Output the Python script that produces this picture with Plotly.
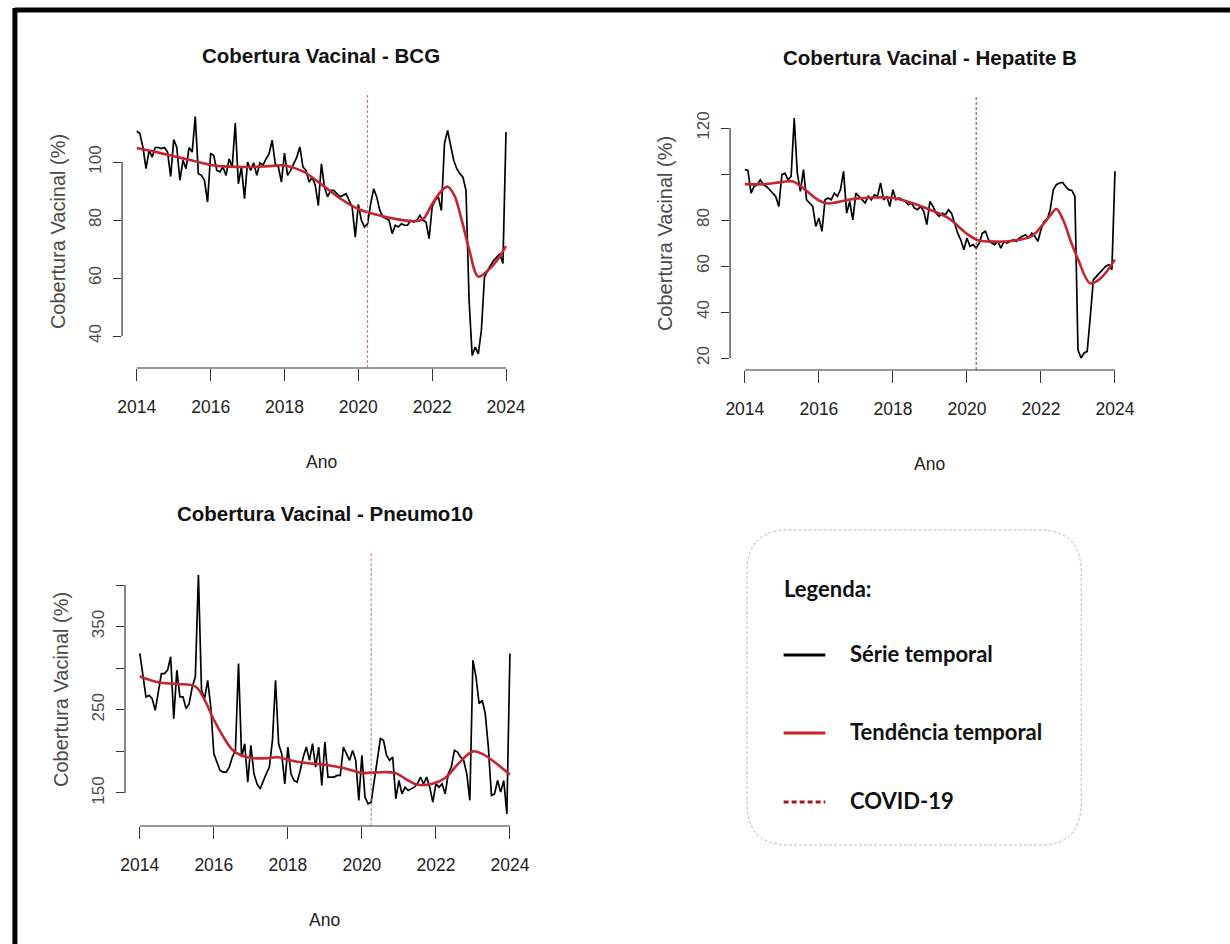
import plotly.graph_objects as go

# ---------------- data ----------------
months = [2014 + i / 12 for i in range(121)]

bcg_series = [110.6,109.8,105,97.7,104,101.7,105,105,104.6,105,103.4,95,
107.7,105,93.7,100.6,97.7,105,103.4,115.7,96,95.4,93.7,86.2,
102.9,102.3,97.1,96.6,98.3,95.4,101.1,98.3,113.4,92.5,98.3,87.4,
100,97.1,99.7,95.4,99.7,98.9,101.1,102.9,107.5,99.4,98.3,93.1,
103.1,95.4,97.1,99.4,101.7,105.2,98.3,97.1,93.1,94.8,92,85,
99.4,91.4,88,90.2,90.2,89.1,88,88.5,89.1,86.8,84.5,74.1,
85.4,79.9,77.6,78.7,85.6,90.8,87.9,83.3,81,80.5,79.9,75.3,
78.2,77.6,78.7,78.2,78.2,79.9,79.3,79.9,81.6,79.9,79.3,73.6,
84.5,86.8,88,83.3,106.3,110.9,105.2,100.6,97.7,96,94.8,90.2,
52.3,33.3,36.2,33.9,42,60.3,62.6,64.4,66.1,67.2,68.4,65,
110.3]

hepb_series = [101.9,101.6,91.7,94.6,95.4,97.5,95.4,94.6,93.2,91.7,90.3,85.9,
99.7,100.4,97.5,99,124.3,100.4,92.5,101.9,88.8,87.4,85.9,77.2,
80.9,75.1,88.8,89.6,88.8,91.7,90.3,93.2,101.2,83,88.1,80.1,
91.7,90.3,88.8,87.4,90.3,88.8,91,90.3,96.1,88.8,90.3,85.9,
93.2,88.8,89.6,88.8,88.1,86.7,87.4,85.2,84.5,85.9,83.8,78,
88.1,85.9,83,81.6,83,82.3,84.5,83,78.7,74.3,71.4,67.1,
72.2,68.6,69.3,67.8,70,74.3,75.1,71.4,70,69.3,70.7,67.8,
70.7,70,70.7,71.4,70.7,72.2,72.9,73.6,72.2,74.3,72.9,70.7,
75.8,79.4,80.1,84.5,93.2,95.4,96.1,96.4,94.6,93.2,92.9,90.3,
23.6,20,22.2,22.9,38.1,54.1,55.5,57,58.4,59.9,60.6,58.4,
101.2]

pneumo_series = [317.7,293.6,265.5,267.5,263.5,249.4,269.5,293.6,293.6,297.6,313.7,239.4,
297.6,265.5,265.5,251.4,257.4,277.5,289.6,412,273.5,263.5,285.5,253.4,
197.2,187.1,177.1,175.1,175.1,181.1,193.2,201.2,305.6,193.2,209.2,163,
207.2,173.1,161,155,165,173.1,181.1,213.3,285.5,209.2,197.2,161,
205.2,173.1,165,163,177.1,193.2,205.2,189.2,209.2,181.1,205.2,159,
211.2,169.1,169.1,169.1,171.1,171.1,205.2,197.2,189.2,201.2,189.2,141,
195.2,145,137,139,165,189.2,215.3,213.3,195.2,189.2,193.2,143,
165,149,157,153,155,157,161,169.1,161,169.1,157,139,
161,157,161,149,173.1,181.1,201.2,199.2,193.2,189.2,173.1,141,
309.6,289.6,257.4,261.4,245.4,205.2,147,149,165,151,165,124.9,
317.7]

bcg_trend_x = [2014, 2014.5, 2015, 2015.5, 2016, 2016.5, 2017, 2017.5, 2018, 2018.5, 2019, 2019.5,
               2020, 2020.5, 2021, 2021.5, 2021.75, 2022, 2022.25, 2022.42, 2022.6, 2022.8, 2023,
               2023.25, 2023.5, 2023.75, 2024]
bcg_trend = [104.8, 103.5, 102, 100.5, 99, 98.4, 98.3, 98.5, 98.8, 96.8, 92.3, 87.5,
             83.8, 81.8, 80.4, 79.6, 80.3, 85.5, 90, 91.5, 88.5, 80, 70,
             60.5, 62.5, 66, 71]

hepb_trend_x = [2014, 2014.5, 2015, 2015.3, 2015.6, 2016, 2016.25, 2016.5, 2017, 2017.5, 2018, 2018.5,
                2019, 2019.5, 2020, 2020.3, 2020.75, 2021.25, 2021.75, 2022, 2022.25, 2022.42, 2022.6,
                2022.8, 2023, 2023.33, 2023.6, 2024]
hepb_trend = [95.6, 95.6, 96.5, 96.8, 93.5, 88.5, 87.2, 87.8, 89.3, 89.8, 89.6, 87.5,
              84.5, 80.8, 74, 71.2, 70.6, 71, 73, 77, 82, 84.8, 80,
              71, 63, 52.5, 54.5, 62.8]

pneumo_trend_x = [2014, 2014.5, 2015, 2015.5, 2015.75, 2016, 2016.25, 2016.5, 2016.75, 2017, 2017.5,
                  2017.75, 2018, 2018.5, 2019, 2019.5, 2019.75, 2020, 2020.5, 2020.9, 2021.25, 2021.5,
                  2021.9, 2022.25, 2022.6, 2023, 2023.25, 2023.5, 2024]
pneumo_trend = [290, 283, 281, 278, 262, 238, 218, 202, 195, 192, 192,
                193, 190, 186, 184, 180, 177, 174, 175, 174, 165, 160,
                161, 168, 185, 200, 197, 190, 172]

covid_date = 2020.25

titles = ["Cobertura Vacinal - BCG", "Cobertura Vacinal - Hepatite B", "Cobertura Vacinal - Pneumo10"]
x_ticks = [2014, 2016, 2018, 2020, 2022, 2024]
bcg_yticks = [40, 60, 80, 100]
bcg_ytext = ["40", "60", "80", "100"]
hepb_yticks = [20, 40, 60, 80, 100, 120]
hepb_ytext = ["20", "40", "60", "80", "", "120"]
pneumo_yticks = [150, 200, 250, 300, 350, 400]
pneumo_ytext = ["150", "", "250", "", "350", ""]
legend_labels = ["Série temporal", "Tendência temporal", "COVID-19"]

# ---------------- layout helpers ----------------
W, H = 1230, 944
def px(x):
    return x / W
def py(y):
    return 1 - y / H

SANS = "Liberation Sans, Arial, sans-serif"
LEG = "Lato, Carlito, Open Sans, sans-serif"

panels = [
    dict(series=bcg_series, tx=bcg_trend_x, ty=bcg_trend, yt=bcg_yticks, ytt=bcg_ytext,
         xpx=(118, 520), ypx=(95, 368), yr=[29.0, 123.1], covid_col="#d86a7a", title=titles[0]),
    dict(series=hepb_series, tx=hepb_trend_x, ty=hepb_trend, yt=hepb_yticks, ytt=hepb_ytext,
         xpx=(731, 1134), ypx=(97, 370), yr=[14.8, 133.5], covid_col="#9a2a2a", title=titles[1]),
    dict(series=pneumo_series, tx=pneumo_trend_x, ty=pneumo_trend, yt=pneumo_yticks, ytt=pneumo_ytext,
         xpx=(121, 524), ypx=(553, 826), yr=[110.3, 438.5], covid_col="#d86a7a", title=titles[2]),
]

fig = go.Figure()
shapes = []
annotations = []
layout_axes = {}

for i, p in enumerate(panels):
    n = i + 1
    xa = "x" if n == 1 else f"x{n}"
    ya = "y" if n == 1 else f"y{n}"
    fig.add_trace(go.Scatter(x=months, y=p["series"], mode="lines", xaxis=xa, yaxis=ya,
                             line=dict(color="#000000", width=1.7), showlegend=False,
                             hoverinfo="skip"))
    fig.add_trace(go.Scatter(x=p["tx"], y=p["ty"], mode="lines", xaxis=xa, yaxis=ya,
                             line=dict(color="#c52530", width=2.6, shape="spline", smoothing=1.0),
                             showlegend=False, hoverinfo="skip"))
    x0, x1 = p["xpx"]
    y0, y1 = p["ypx"]
    layout_axes[f"xaxis{'' if n == 1 else n}"] = dict(
        domain=[px(x0), px(x1)], range=[2013.6, 2024.4], anchor=ya,
        showgrid=False, zeroline=False, showline=False,
        tickvals=x_ticks, ticktext=[str(v) for v in x_ticks],
        ticks="outside", ticklen=12, tickwidth=1, tickcolor="#333333",
        ticklabelstandoff=11,
        tickfont=dict(family=SANS, size=17.5, color="#222222"),
    )
    layout_axes[f"yaxis{'' if n == 1 else n}"] = dict(
        domain=[py(y1), py(y0)], range=p["yr"], anchor=xa,
        showgrid=False, zeroline=False, showline=False,
        tickvals=p["yt"], ticktext=p["ytt"], tickangle=-90,
        ticks="outside", ticklen=8, tickwidth=1, tickcolor="#333333",
        ticklabelstandoff=5,
        tickfont=dict(family=SANS, size=17, color="#4a4a4a"),
    )
    # R-style axis lines spanning first to last tick
    shapes.append(dict(type="line", xref=xa, yref=f"{ya} domain", x0=x_ticks[0], x1=x_ticks[-1],
                       y0=0, y1=0, line=dict(color="#333333", width=1.2)))
    shapes.append(dict(type="line", xref=f"{xa} domain", yref=ya, x0=0, x1=0,
                       y0=p["yt"][0], y1=p["yt"][-1], line=dict(color="#333333", width=1.2)))
    # COVID line
    shapes.append(dict(type="line", xref=xa, yref=f"{ya} domain", x0=covid_date, x1=covid_date,
                       y0=0, y1=1, line=dict(color=p["covid_col"], width=1, dash="3px,2px")))
    cx = (x0 + x1) / 2
    annotations.append(dict(text=p["title"], x=px(cx), y=py(y0 - 40), xref="paper", yref="paper",
                            showarrow=False, xanchor="center", yanchor="middle",
                            font=dict(family=SANS, size=20.5, color="#111111", weight="bold")))
    annotations.append(dict(text="Ano", x=px(cx), y=py(y1 + 94), xref="paper", yref="paper",
                            showarrow=False, xanchor="center", yanchor="middle",
                            font=dict(family=SANS, size=17.5, color="#222222")))
    annotations.append(dict(text="Cobertura Vacinal (%)", x=px(x0 - 65), y=py((y0 + y1) / 2),
                            xref="paper", yref="paper", textangle=-90,
                            showarrow=False, xanchor="center", yanchor="middle",
                            font=dict(family=SANS, size=20, color="#4a4a4a")))

# outer border (left and top)
shapes.append(dict(type="line", xref="paper", yref="paper", x0=px(10), x1=px(1235), y0=py(10), y1=py(10),
                   line=dict(color="#000000", width=5)))
shapes.append(dict(type="line", xref="paper", yref="paper", x0=px(10), x1=px(10), y0=py(8), y1=py(950),
                   line=dict(color="#000000", width=5)))

# legend box (rounded, dashed)
bx0, bx1, by0, by1, r = 748, 1085, 530, 845, 42
path = (f"M {px(bx0 + r)},{py(by0)} L {px(bx1 - r)},{py(by0)} "
        f"Q {px(bx1)},{py(by0)} {px(bx1)},{py(by0 + r)} L {px(bx1)},{py(by1 - r)} "
        f"Q {px(bx1)},{py(by1)} {px(bx1 - r)},{py(by1)} L {px(bx0 + r)},{py(by1)} "
        f"Q {px(bx0)},{py(by1)} {px(bx0)},{py(by1 - r)} L {px(bx0)},{py(by0 + r)} "
        f"Q {px(bx0)},{py(by0)} {px(bx0 + r)},{py(by0)} Z")
shapes.append(dict(type="path", xref="paper", yref="paper", path=path,
                   line=dict(color="#b8b8b8", width=1, dash="3px,2px")))

leg_y = [655, 733, 802]
leg_styles = [dict(color="#000000", width=3), dict(color="#d0201c", width=3),
              dict(color="#9b1b2a", width=3, dash="5px,3px")]
for yy, st, lab in zip(leg_y, leg_styles, legend_labels):
    shapes.append(dict(type="line", xref="paper", yref="paper", x0=px(785), x1=px(827),
                       y0=py(yy), y1=py(yy), line=st))
    annotations.append(dict(text=lab, x=px(850), y=py(yy - 2), xref="paper", yref="paper",
                            showarrow=False, xanchor="left", yanchor="middle",
                            font=dict(family=LEG, size=22, color="#111111", weight="bold")))
annotations.append(dict(text="Legenda:", x=px(783), y=py(588), xref="paper", yref="paper",
                        showarrow=False, xanchor="left", yanchor="middle",
                        font=dict(family=LEG, size=22, color="#111111", weight="bold")))

fig.update_layout(
    width=W, height=H, margin=dict(l=0, r=0, t=0, b=0),
    paper_bgcolor="white", plot_bgcolor="white",
    showlegend=False, shapes=shapes, annotations=annotations,
    **layout_axes,
)

fig.write_html("out.html", config={"displayModeBar": False},
               post_script="document.body.style.margin='0';document.body.style.overflow='hidden';")
